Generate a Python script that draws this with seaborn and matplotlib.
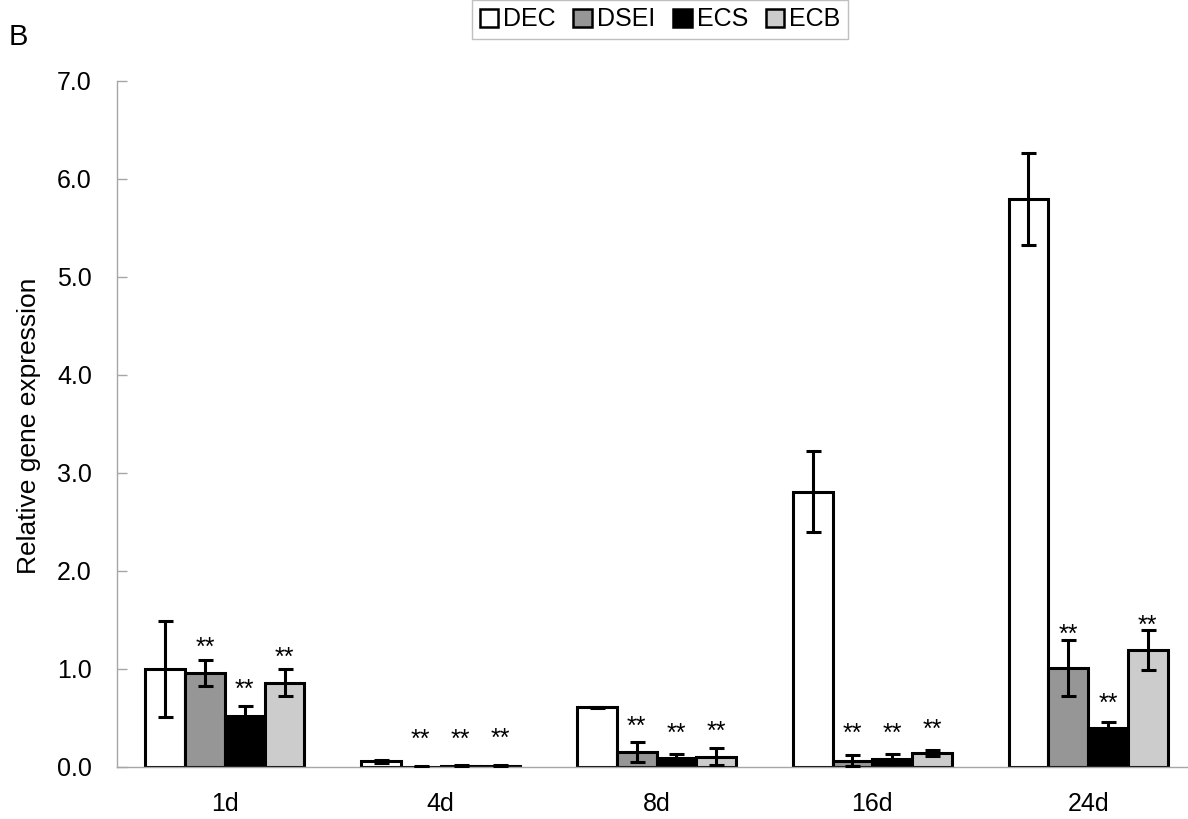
import numpy as np
import pandas as pd
import matplotlib
matplotlib.use("Agg")
import matplotlib.pyplot as plt
import seaborn as sns
from matplotlib.patches import Patch

# Time points and treatment groups
days = ["1d", "4d", "8d", "16d", "24d"]
groups = ["DEC", "DSEI", "ECS", "ECB"]

# Mean relative expression per group (one value per time point)
dec_mean = [1.00, 0.06, 0.61, 2.81, 5.80]
dsei_mean = [0.96, 0.005, 0.155, 0.065, 1.01]
ecs_mean = [0.52, 0.01, 0.095, 0.08, 0.395]
ecb_mean = [0.86, 0.015, 0.105, 0.14, 1.19]

# Error (SD) per group
dec_err = [0.49, 0.015, 0.005, 0.41, 0.47]
dsei_err = [0.135, 0.003, 0.10, 0.055, 0.29]
ecs_err = [0.10, 0.008, 0.04, 0.05, 0.06]
ecb_err = [0.14, 0.008, 0.085, 0.03, 0.205]

# Significance marks and the height of each mark
stars = [
    ["", "**", "**", "**"],
    ["", "**", "**", "**"],
    ["", "**", "**", "**"],
    ["", "**", "**", "**"],
    ["", "**", "**", "**"],
]
star_level = [
    [0, 1.29, 0.86, 1.19],
    [0, 0.35, 0.35, 0.36],
    [0, 0.49, 0.42, 0.44],
    [0, 0.42, 0.42, 0.46],
    [0, 1.43, 0.72, 1.52],
]

y_ticks = [0, 1, 2, 3, 4, 5, 6, 7]

means = {"DEC": dec_mean, "DSEI": dsei_mean, "ECS": ecs_mean, "ECB": ecb_mean}
errs = {"DEC": dec_err, "DSEI": dsei_err, "ECS": ecs_err, "ECB": ecb_err}
colors = {"DEC": "#ffffff", "DSEI": "#969696", "ECS": "#000000", "ECB": "#cccccc"}

rows = []
for g in groups:
    for d, m, e in zip(days, means[g], errs[g]):
        rows.append({"day": d, "group": g, "value": m, "err": e})
df = pd.DataFrame(rows)

sns.set_theme(style="white")
plt.rcParams["font.family"] = ["Liberation Sans", "DejaVu Sans"]
plt.rcParams["text.color"] = "black"
plt.rcParams["axes.labelcolor"] = "black"
plt.rcParams["xtick.labelcolor"] = "black"
plt.rcParams["ytick.labelcolor"] = "black"

fig = plt.figure(figsize=(11.88, 8.19), dpi=100)
ax = fig.add_axes([117 / 1188, 52 / 819, 1079 / 1188, 686 / 819])

axis_color = "#a6a6a6"
edge_lw = 2.2

sns.barplot(
    data=df, x="day", y="value", hue="group", order=days, hue_order=groups,
    palette=colors, edgecolor="black", linewidth=edge_lw, errorbar=None,
    width=0.737, gap=0, legend=False, ax=ax, zorder=2,
)

# Error bars and significance marks, placed on each bar's centre
n = len(days)
for gi, g in enumerate(groups):
    patches = ax.patches[gi * n:(gi + 1) * n]
    for di, p in enumerate(patches):
        xc = p.get_x() + p.get_width() / 2
        ax.errorbar(xc, means[g][di], yerr=errs[g][di], fmt="none",
                    ecolor="black", elinewidth=2.2, capsize=5.4,
                    capthick=2.2, zorder=3)
        s = stars[di][gi]
        if s:
            ax.annotate(s, (xc, star_level[di][gi]), xytext=(0, -10.5),
                        textcoords="offset points", ha="center",
                        va="baseline", fontsize=18, color="black")

ax.set_xlim(-0.5, len(days) - 0.5)
ax.set_ylim(0, 7)
ax.set_yticks(y_ticks)
ax.set_yticklabels([f"{v:.1f}" for v in y_ticks])
ax.set_xticks(range(len(days)))
ax.set_xticklabels(days)
ax.set_xticks(np.arange(0.5, len(days) - 0.5, 1), minor=True)
ax.set_xlabel("")
ax.set_ylabel("Relative gene expression", fontsize=19)
ax.yaxis.set_label_coords(-0.070, 0.497)

ax.tick_params(axis="x", which="major", length=0, pad=18, labelsize=18)
ax.tick_params(axis="x", which="minor", direction="in", length=7,
               width=1.0, color=axis_color)
ax.tick_params(axis="y", direction="in", length=7, width=1.0,
               color=axis_color, pad=18, labelsize=18, left=True)

for side in ["top", "right"]:
    ax.spines[side].set_visible(False)
for side in ["left", "bottom"]:
    ax.spines[side].set_color(axis_color)
    ax.spines[side].set_linewidth(1.0)
ax.grid(False)

handles = [Patch(facecolor=colors[g], edgecolor="black", linewidth=1.8)
           for g in groups]
leg = fig.legend(handles, groups, loc="upper center",
                 bbox_to_anchor=(0.5556, 1.0), ncol=4, fontsize=18,
                 frameon=True, fancybox=False, handlelength=0.75,
                 handleheight=0.75, handletextpad=0.2, columnspacing=0.7,
                 borderpad=0.3, borderaxespad=0.0)
leg.get_frame().set_edgecolor("#b0b0b0")
leg.get_frame().set_linewidth(1.0)

fig.text(9 / 1188, 1 - 45 / 819, "B", fontsize=21, ha="left",
         va="baseline")

fig.savefig("out.png", dpi=100)
